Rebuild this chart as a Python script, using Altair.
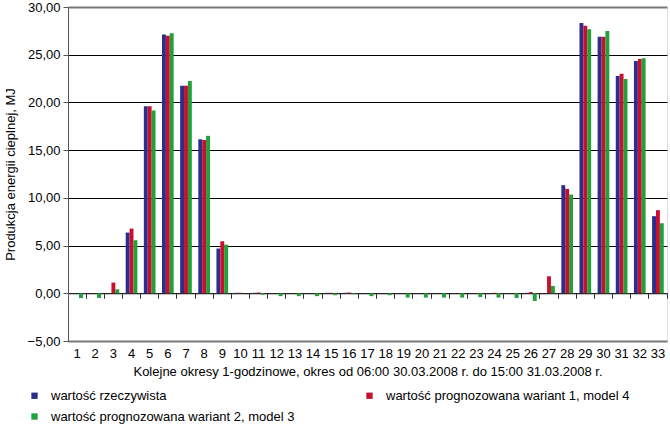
import altair as alt
import pandas as pd

periods = list(range(1, 34))
actual = [0, 0, 0, 6.36, 19.6, 27.13, 21.75, 16.15, 4.69, 0.05,
          0.05, 0, 0, 0, 0.05, 0.05, 0.02, 0.02, 0, 0.02,
          0, 0.02, 0.02, 0.02, 0, 0.05, 0, 11.33, 28.32, 26.89,
          22.76, 24.34, 8.08]
variant1 = [0, 0, 1.12, 6.78, 19.6, 26.99, 21.75, 16.05, 5.45, 0.05,
            0.08, 0, 0, 0, 0.05, 0.08, 0, 0, 0, 0,
            0, 0, 0.03, 0.05, 0, 0.12, 1.78, 10.94, 28.04, 26.89,
            23.0, 24.55, 8.71]
variant2 = [-0.5, -0.5, 0.42, 5.56, 19.16, 27.24, 22.24, 16.5, 5.1, 0,
            -0.15, -0.3, -0.3, -0.3, -0.2, -0.1, -0.3, -0.2, -0.45, -0.45,
            -0.45, -0.45, -0.4, -0.45, -0.5, -0.8, 0.77, 10.35, 27.66, 27.48,
            22.45, 24.62, 7.34]

series_names = ["wartość rzeczywista",
                "wartość prognozowana wariant 1, model 4",
                "wartość prognozowana wariant 2, model 3"]
colors = ["#2b2e8c", "#c8102e", "#22a03a"]
y_ticks = [-5, 0, 5, 10, 15, 20, 25, 30]
x_title = "Kolejne okresy 1-godzinowe, okres od 06:00 30.03.2008 r. do 15:00 31.03.2008 r."
y_title = "Produkcja energii cieplnej, MJ"

rows = []
for i, p in enumerate(periods):
    for s, vals in zip(series_names, [actual, variant1, variant2]):
        rows.append({"okres": p, "seria": s, "wartosc": vals[i]})
df = pd.DataFrame(rows)

FONT = "Liberation Sans"
FS = 13
W, H = 599, 334
y_min, y_max = y_ticks[0], y_ticks[-1]
zero_offset = -H * (0 - y_min) / (y_max - y_min)

xscale = alt.Scale(paddingInner=0, paddingOuter=0)
yscale = alt.Scale(domain=[y_min, y_max], nice=False, zero=False)

edge_test = "datum.value === 30 || datum.value === -5"

bars = alt.Chart(df).mark_bar().encode(
    x=alt.X("okres:O", scale=xscale, title=x_title,
            axis=alt.Axis(domain=False, ticks=False, labelAngle=0, labelPadding=6,
                          titlePadding=5, labelFontSize=FS, titleFontSize=FS,
                          labelFont=FONT, titleFont=FONT, titleFontWeight="normal",
                          labelColor="#000", titleColor="#000", grid=False)),
    xOffset=alt.XOffset("seria:N", sort=series_names,
                        scale=alt.Scale(paddingOuter=0.83, paddingInner=0)),
    y=alt.Y("wartosc:Q", scale=yscale, title=y_title,
            axis=alt.Axis(values=y_ticks,
                          labelExpr="replace(format(datum.value, '.2f'), '.', ',')",
                          grid=True,
                          gridColor={"condition": {"test": edge_test, "value": "#777777"}, "value": "#000000"},
                          gridWidth={"condition": {"test": edge_test, "value": 2}, "value": 1},
                          domain=True, domainColor="#555", ticks=True, tickSize=5, tickColor="#555",
                          labelPadding=3, titlePadding=10, labelFontSize=FS, titleFontSize=FS,
                          labelFont=FONT, titleFont=FONT, titleFontWeight="normal",
                          labelColor="#000", titleColor="#000")),
    color=alt.Color("seria:N",
                    scale=alt.Scale(domain=series_names, range=colors),
                    legend=alt.Legend(orient="none", legendX=-40, legendY=382, columns=2,
                                      direction="horizontal",
                                      columnPadding=68, rowPadding=7, title=None,
                                      symbolType="square", symbolSize=40, symbolStrokeWidth=0,
                                      labelFont=FONT, labelFontSize=FS, labelColor="#000",
                                      labelLimit=0, labelOffset=10)),
)

zero_axis = alt.Chart(df).mark_bar(opacity=0).encode(
    x=alt.X("okres:O", scale=xscale, title=None,
            axis=alt.Axis(orient="bottom", offset=zero_offset, labels=False, domain=True,
                          domainColor="#333", domainWidth=1, ticks=True, tickSize=5,
                          tickColor="#333", bandPosition=1, grid=False)),
    xOffset=alt.XOffset("seria:N", sort=series_names),
    y=alt.Y("wartosc:Q", scale=yscale, axis=None),
)

chart = alt.layer(bars, zero_axis).resolve_axis(x="independent", y="independent").properties(
    width=W, height=H,
    autosize=alt.AutoSizeParams(type="none"),
    padding={"left": 68, "top": 7, "right": 3, "bottom": 83},
).configure_view(stroke=None).configure(background="white")

chart.save("out.html", embed_options={"renderer": "svg", "actions": False})
